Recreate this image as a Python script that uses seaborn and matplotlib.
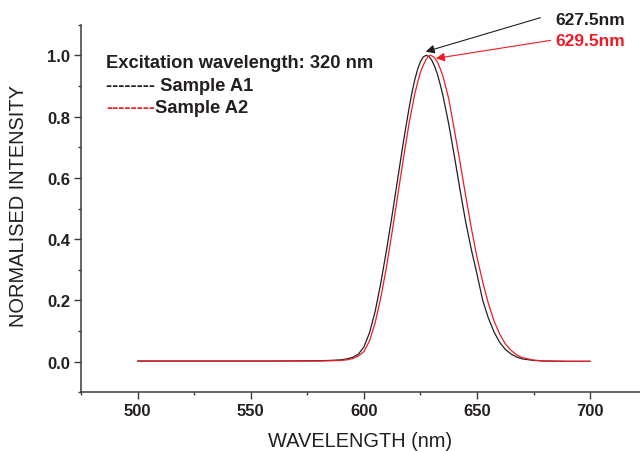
import numpy as np
import pandas as pd
import matplotlib
matplotlib.use("Agg")
import matplotlib.pyplot as plt
from matplotlib.ticker import MultipleLocator
import seaborn as sns

# Normalised emission spectra (wavelength in nm, intensity normalised to 1)
wl_a1 = [500, 520, 540, 560, 580, 585, 590,
         592.5, 595, 597.5, 600, 602.5, 605, 607.5, 610, 612.5, 615,
         617.5, 620, 621.25, 622.5, 623.75, 625, 626.25, 627.5, 628.75,
         630, 631.25, 632.5, 633.75, 635, 637.5, 640,
         642.5, 645, 647.5, 650, 652.5, 655, 657.5, 660, 662.5, 665,
         667.5, 670, 675, 680, 690, 700]
int_a1 = [0.002, 0.002, 0.002, 0.002, 0.003, 0.004, 0.006,
          0.009, 0.014, 0.024, 0.048, 0.095, 0.165, 0.258, 0.365, 0.480, 0.600,
          0.720, 0.830, 0.879, 0.921, 0.955, 0.980, 0.995, 1.000, 0.996,
          0.984, 0.964, 0.938, 0.904, 0.866, 0.775, 0.670,
          0.560, 0.455, 0.365, 0.285, 0.200, 0.142, 0.097, 0.063, 0.040, 0.025,
          0.015, 0.009, 0.004, 0.002, 0.001, 0.001]

wl_a2 = [500, 520, 540, 560, 580, 585, 590,
         592.5, 595, 597.5, 600, 602.5, 605, 607.5, 610, 612.5, 615,
         617.5, 620, 622.5, 623.75, 625, 626.25, 627.5, 628.5, 629.5,
         631, 632.5, 633.75, 635, 637.5, 640,
         642.5, 645, 647.5, 650, 652.5, 655, 657.5, 660, 662.5, 665,
         667.5, 670, 675, 680, 690, 700]
int_a2 = [0.002, 0.002, 0.002, 0.002, 0.002, 0.003, 0.004,
          0.006, 0.010, 0.018, 0.033, 0.068, 0.128, 0.210, 0.310, 0.425, 0.545,
          0.665, 0.780, 0.875, 0.912, 0.945, 0.968, 0.987, 0.997, 1.000,
          0.994, 0.978, 0.956, 0.930, 0.858, 0.755,
          0.650, 0.540, 0.435, 0.340, 0.260, 0.190, 0.133, 0.090, 0.058, 0.037,
          0.022, 0.013, 0.005, 0.002, 0.001, 0.001]

samples = ["Sample A1", "Sample A2"]
peak_a1 = 627.5
peak_a2 = 629.5
excitation_nm = 320

RED = "#ee1c25"
INK = "#231f20"

df = pd.concat([
    pd.DataFrame({"wavelength": wl_a1, "intensity": int_a1, "sample": samples[0]}),
    pd.DataFrame({"wavelength": wl_a2, "intensity": int_a2, "sample": samples[1]}),
], ignore_index=True)

sns.set_style("ticks")
plt.rcParams["font.family"] = ["Liberation Sans", "DejaVu Sans"]

fig = plt.figure(figsize=(6.4, 4.52), dpi=100)
ax = fig.add_axes([0.1266, 0.1299, 0.8734, 0.8132])

sns.lineplot(data=df, x="wavelength", y="intensity", hue="sample",
             palette={samples[0]: INK, samples[1]: RED},
             linewidth=0.9, legend=False, ax=ax, sort=False)

ax.set_xlim(475, 722)
ax.set_ylim(-0.1, 1.1)
ax.xaxis.set_major_locator(MultipleLocator(50))
ax.xaxis.set_minor_locator(MultipleLocator(25))
ax.set_yticks([0.0, 0.2, 0.4, 0.6, 0.8, 1.0])
ax.yaxis.set_minor_locator(MultipleLocator(0.1))
ax.set_yticklabels([f"{v:.1f}" for v in [0.0, 0.2, 0.4, 0.6, 0.8, 1.0]])

for s in ["top", "right"]:
    ax.spines[s].set_visible(False)
for s in ["left", "bottom"]:
    ax.spines[s].set_color("#3a3a3a")
    ax.spines[s].set_linewidth(1.1)

ax.tick_params(which="major", direction="out", length=5, width=1.0,
               color="#3a3a3a", labelsize=12, pad=3)
ax.tick_params(which="minor", direction="out", length=2.5, width=1.0,
               color="#3a3a3a")
for lab in ax.get_xticklabels() + ax.get_yticklabels():
    lab.set_fontweight("bold")
    lab.set_color(INK)

ax.set_xlabel("WAVELENGTH (nm)", fontsize=14.4, color=INK)
ax.set_ylabel("NORMALISED INTENSITY", fontsize=14.4, color=INK)
ax.xaxis.set_label_coords(0.5, -0.106)
ax.yaxis.set_label_coords(-0.094, 0.51)

# Legend-style text block
ax.text(0.045, 0.897, f"Excitation wavelength: {excitation_nm} nm",
        transform=ax.transAxes, fontsize=13.2, fontweight="bold", color=INK,
        va="center", ha="left")
ax.text(0.045, 0.835, "-------- " + samples[0], transform=ax.transAxes,
        fontsize=13.2, fontweight="bold", color=INK, va="center", ha="left")
t = ax.text(0.045, 0.774, "--------", transform=ax.transAxes,
            fontsize=13.2, fontweight="bold", color=RED, va="center", ha="left")
ax.annotate(samples[1], xycoords=t, xy=(1, 0.5), va="center", ha="left",
            fontsize=13.2, fontweight="bold", color=INK)

# Peak annotations
ax.annotate("", xy=(peak_a1 - 0.2, 1.012), xytext=(678, 1.123),
            arrowprops=dict(arrowstyle="-|>", color=INK, lw=0.8,
                            mutation_scale=13, shrinkA=0, shrinkB=0),
            annotation_clip=False)
ax.annotate("", xy=(peak_a2 + 2.3, 0.99), xytext=(682.5, 1.049),
            arrowprops=dict(arrowstyle="-|>", color=RED, lw=0.8,
                            mutation_scale=13, shrinkA=0, shrinkB=0),
            annotation_clip=False)
ax.text(684.5, 1.118, f"{peak_a1}nm", fontsize=12.5, fontweight="bold",
        color=INK, va="center", ha="left", clip_on=False)
ax.text(684.5, 1.047, f"{peak_a2}nm", fontsize=12.5, fontweight="bold",
        color=RED, va="center", ha="left", clip_on=False)

fig.savefig("out.png", dpi=100)
